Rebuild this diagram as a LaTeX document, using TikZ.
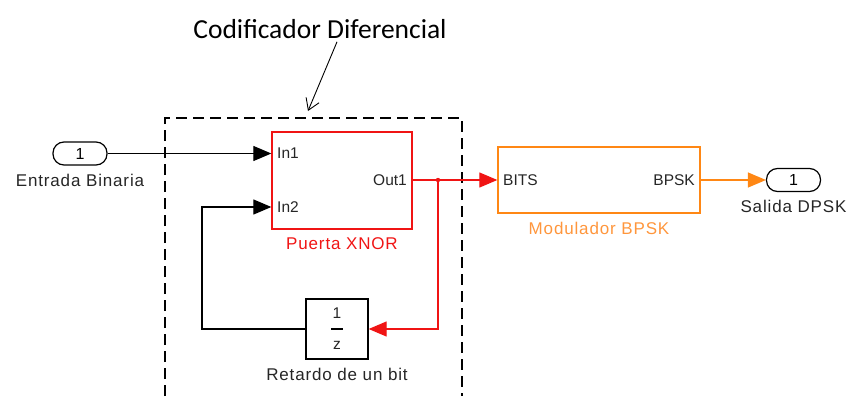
\documentclass[tikz,border=0pt]{standalone}
\usepackage{fontspec}
\setmainfont{Liberation Sans}
\newfontfamily\lblfont[LetterSpace=5]{Liberation Sans}
\newfontfamily\titlefont{Carlito}
\usepackage{tikz}
\usetikzlibrary{positioning,arrows.meta,calc}
\definecolor{simred}{RGB}{240,20,20}
\definecolor{simorange}{RGB}{255,135,20}
\definecolor{lblorange}{RGB}{255,150,60}
\tikzset{
  blk/.style={draw,line width=1.3pt,inner sep=0pt,fill=white},
  port/.style={draw,line width=1.2pt,rounded corners=11pt,minimum width=54pt,
            minimum height=23pt,inner sep=0pt,font=\fontsize{16}{18}\selectfont},
  lbl/.style={inner sep=0pt,font=\lblfont\fontsize{17}{20}\selectfont,text=black!85},
  plbl/.style={inner sep=0pt,font=\fontsize{15.5}{18}\selectfont,text=black!85},
  sig/.style={-{Triangle[length=18pt,width=15pt]},line width=1.2pt,black},
  sigred/.style={sig,simred},
  sigorange/.style={sig,simorange},
  grp/.style={line width=1.5pt,dash pattern=on 11pt off 6pt},
  note/.style={-{Straight Barb[length=11pt,width=14pt]},line width=0.9pt},
}
\begin{document}
\begin{tikzpicture}[x=1pt,y=-1pt]
  \useasboundingbox (0,0) rectangle (856,396);
  % grupo codificador
  \draw[grp] (165,396) |- (462,118) -- (462,396);
  \node[inner sep=0pt,font=\titlefont\fontsize{27.5}{31}\selectfont] (ttl) at (320,29) {Codificador Diferencial};
  \coordinate (ttltip) at (308,111);
  \draw[note] ([xshift=17pt,yshift=-3pt]ttl.south) -- (ttltip);
  % bloques
  \node[port] (in) at (80,153.5) {1};
  \node[lbl,below=8pt of in] (inlbl) {Entrada Binaria};
  \node[blk,draw=simred,minimum width=140pt,minimum height=97pt] (xnor) at (342,180.5) {};
  \node[plbl,anchor=west] (in1) at (277,153.5) {In1};
  \node[plbl,anchor=west] (in2) at (277,207) {In2};
  \node[plbl,anchor=east] (out1) at (407,180) {Out1};
  \node[lbl,text=simred,below=8pt of xnor] (xnorlbl) {Puerta XNOR};
  \node[blk,minimum width=62pt,minimum height=60pt] (dly) at (337,329) {};
  \node[plbl] (dnum) at (337,313) {1};
  \node[plbl] (dden) at (337,345) {z};
  \draw[line width=1.2pt] ([xshift=-6pt]dly.center) -- ([xshift=6pt]dly.center);
  \node[lbl,below=8pt of dly] (dlylbl) {Retardo de un bit};
  \node[blk,draw=simorange,minimum width=202pt,minimum height=66pt] (mod) at (599,180) {};
  \node[plbl,anchor=west] (bits) at (503,180) {BITS};
  \node[plbl,anchor=east] (bpsk) at (695,180) {BPSK};
  \node[lbl,text=lblorange,below=8pt of mod] (modlbl) {Modulador BPSK};
  \node[port] (out) at (793.5,180) {1};
  \node[lbl,below=8pt of out] (outlbl) {Salida DPSK};
  % conexiones
  \coordinate (jn) at (438,180);
  \coordinate (fb) at (202,207);
  \draw[sig] (in.east) -- (in.east -| xnor.west);
  \draw[sig] (dly.west) -| (fb) -- (fb -| xnor.west);
  \draw[sigred] (xnor.east |- jn) -- (mod.west);
  \draw[sigred] (jn) |- (dly.east);
  \fill[simred] (jn) circle (2.2pt);
  \draw[sigorange] (mod.east) -- (out.west);
\end{tikzpicture}
\end{document}
